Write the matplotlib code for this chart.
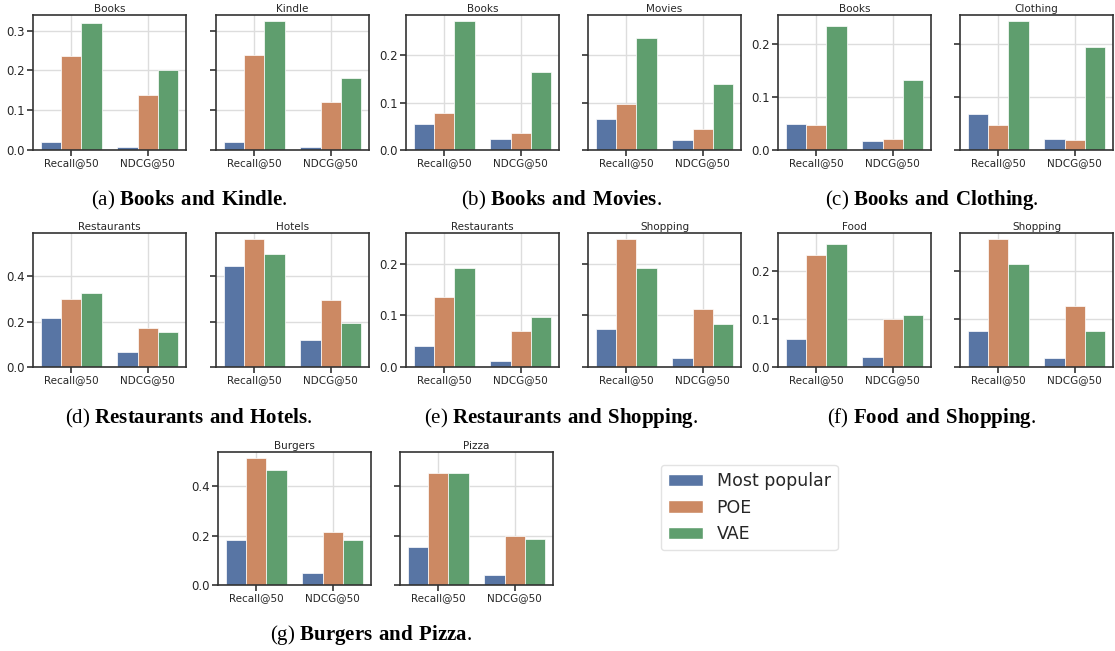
import numpy as np
import matplotlib
matplotlib.use("Agg")
import matplotlib.pyplot as plt
from matplotlib.patches import Patch

# metric groups on the x axis
metrics = ["Recall@50", "NDCG@50"]
methods = ["Most popular", "POE", "VAE"]
colors = ["#5875a4", "#cc8963", "#5f9e6e"]

# values per domain: [[MP, POE, VAE] for Recall, [MP, POE, VAE] for NDCG]
books_a = [[0.019, 0.235, 0.319], [0.008, 0.137, 0.200]]
kindle = [[0.021, 0.238, 0.323], [0.007, 0.120, 0.181]]
books_b = [[0.056, 0.079, 0.272], [0.023, 0.036, 0.164]]
movies = [[0.065, 0.097, 0.237], [0.021, 0.044, 0.140]]
books_c = [[0.048, 0.047, 0.234], [0.016, 0.020, 0.131]]
clothing = [[0.0675, 0.047, 0.242], [0.020, 0.019, 0.193]]
restaurants_d = [[0.215, 0.301, 0.326], [0.068, 0.173, 0.153]]
hotels = [[0.446, 0.563, 0.498], [0.119, 0.295, 0.196]]
restaurants_e = [[0.040, 0.136, 0.192], [0.012, 0.069, 0.096]]
shopping_e = [[0.073, 0.247, 0.192], [0.018, 0.113, 0.084]]
food = [[0.059, 0.234, 0.257], [0.020, 0.101, 0.109]]
shopping_f = [[0.075, 0.266, 0.215], [0.019, 0.127, 0.076]]
burgers = [[0.181, 0.514, 0.465], [0.049, 0.215, 0.184]]
pizza = [[0.154, 0.454, 0.454], [0.041, 0.197, 0.185]]

panels = [
    ("(a)", "Books and Kindle", ("Books", books_a), ("Kindle", kindle)),
    ("(b)", "Books and Movies", ("Books", books_b), ("Movies", movies)),
    ("(c)", "Books and Clothing", ("Books", books_c), ("Clothing", clothing)),
    ("(d)", "Restaurants and Hotels", ("Restaurants", restaurants_d), ("Hotels", hotels)),
    ("(e)", "Restaurants and Shopping", ("Restaurants", restaurants_e), ("Shopping", shopping_e)),
    ("(f)", "Food and Shopping", ("Food", food), ("Shopping", shopping_f)),
    ("(g)", "Burgers and Pizza", ("Burgers", burgers), ("Pizza", pizza)),
]

plt.rcParams["mathtext.fontset"] = "custom"
plt.rcParams["mathtext.rm"] = "Liberation Serif"
plt.rcParams["mathtext.bf"] = "Liberation Serif:bold"

W, H = 1115, 651
fig = plt.figure(figsize=(W / 100, H / 100), dpi=100)

# pixel layout: (left of first axes, left of second axes, top, bottom, caption x, caption y)
layout = [
    (33, 216, 15, 150, 189, 200),
    (406, 588, 15, 150, 561, 200),
    (778, 960, 15, 150, 932, 200),
    (33, 216, 233, 367, 189, 418),
    (406, 588, 233, 367, 561, 418),
    (778, 960, 233, 367, 932, 418),
    (218, 400, 452, 585, 371, 635),
]
axw = 153


def draw(ax, title, vals):
    x = np.arange(len(metrics))
    bw = 0.8 / len(methods)
    for i in range(len(methods)):
        v = [vals[k][i] for k in range(len(metrics))]
        ax.bar(x + (i - 1) * bw, v, bw, color=colors[i], edgecolor="white",
               linewidth=0.5, zorder=2)
    ax.set_xlim(-0.5, 1.5)
    ax.set_xticks(x)
    ax.set_xticklabels(metrics, fontsize=7.5, color="#262626")
    ax.tick_params(axis="y", labelsize=8.5, labelcolor="#262626")
    ax.tick_params(direction="out", length=4, width=1.2, color="#333333", pad=2)
    ax.grid(True, color="#dddddd", linewidth=1, zorder=0)
    ax.set_axisbelow(True)
    for s in ax.spines.values():
        s.set_color("#333333")
        s.set_linewidth(1.2)
    ax.set_title(title, fontsize=7.5, pad=2, color="#262626")


for (lab, cap, p1, p2), (l1, l2, top, bot, cx, cy) in zip(panels, layout):
    ax1 = fig.add_axes([l1 / W, 1 - bot / H, axw / W, (bot - top) / H])
    ax2 = fig.add_axes([l2 / W, 1 - bot / H, axw / W, (bot - top) / H], sharey=ax1)
    draw(ax1, p1[0], p1[1])
    draw(ax2, p2[0], p2[1])
    big = max(max(p1[1][0]), max(p2[1][0])) >= 0.4
    ax1.yaxis.set_major_locator(matplotlib.ticker.MultipleLocator(0.2 if big else 0.1))
    plt.setp(ax2.get_yticklabels(), visible=False)
    bold = cap.replace(" ", r"\ ")
    fig.text(cx / W, 1 - cy / H, lab + r" $\mathbf{" + bold + "}$.", ha="center", va="center",
             fontsize=15, family="Liberation Serif", color="black")

handles = [Patch(facecolor=c, edgecolor="white") for c in colors]
fig.legend(handles, methods, loc="upper left", bbox_to_anchor=(661 / W, 1 - 465 / H),
           fontsize=12.5, frameon=True, edgecolor="#dddddd", fancybox=True,
           borderaxespad=0, labelcolor="#262626")

fig.savefig("out.png", dpi=100)
